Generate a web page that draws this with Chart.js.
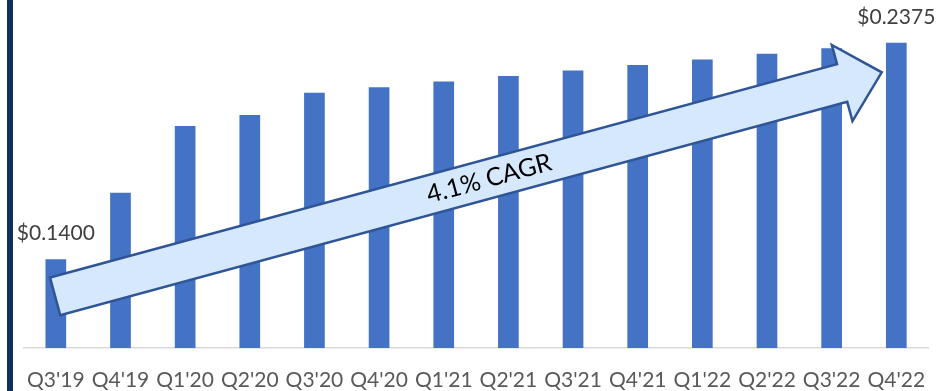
<!DOCTYPE html>
<html>
<head>
<meta charset="utf-8">
<script src="https://cdn.jsdelivr.net/npm/chart.js@4.4.0/dist/chart.umd.min.js"></script>
<style>
  html, body { margin: 0; padding: 0; background: #fff; }
  #grafica { position: relative; width: 945px; height: 391px; }
</style>
</head>
<body>
<div id="grafica"><canvas id="myChart"></canvas></div>
<script>
// datos
var trimestres = ["Q3'19", "Q4'19", "Q1'20", "Q2'20", "Q3'20", "Q4'20", "Q1'21", "Q2'21", "Q3'21", "Q4'21", "Q1'22", "Q2'22", "Q3'22", "Q4'22"];
var dividendos = [0.14, 0.17, 0.20, 0.205, 0.215, 0.2175, 0.22, 0.2225, 0.225, 0.2275, 0.23, 0.2325, 0.235, 0.2375];
var etiquetas = ['$0.1400', null, null, null, null, null, null, null, null, null, null, null, null, '$0.2375'];
var texto_flecha = '4.1% CAGR';

var fuente = 'Lato, "Open Sans", sans-serif';

// linea azul a la izquierda
var bordeIzq = {
    id: 'bordeIzq',
    beforeDraw: function (chart) {
        var ctx = chart.ctx;
        ctx.save();
        ctx.fillStyle = '#0f2f5e';
        ctx.fillRect(7, 0, 6, chart.height);
        ctx.restore();
    }
};

// etiquetas de valor arriba de las barras
var etiquetasValor = {
    id: 'etiquetasValor',
    afterDatasetsDraw: function (chart) {
        var ctx = chart.ctx;
        var meta = chart.getDatasetMeta(0);
        ctx.save();
        ctx.font = '21px ' + fuente;
        ctx.fillStyle = '#404040';
        ctx.textAlign = 'center';
        ctx.textBaseline = 'middle';
        meta.data.forEach(function (bar, i) {
            if (etiquetas[i]) {
                ctx.fillText(etiquetas[i], bar.x, bar.y - 26);
            }
        });
        ctx.restore();
    }
};

// flecha CAGR
var flecha = {
    id: 'flecha',
    afterDatasetsDraw: function (chart) {
        var ctx = chart.ctx;
        var xs = chart.scales.x, ys = chart.scales.y;
        var sx = xs.getPixelForValue(0) - 0.7;
        var sy = ys.getPixelForValue(0.1233);
        var tx = xs.getPixelForValue(trimestres.length - 1) - 14.6;
        var ty = ys.getPixelForValue(0.2242);
        var largo = Math.hypot(tx - sx, ty - sy);
        var ang = Math.atan2(ty - sy, tx - sx);
        var cabeza = 41, anchoCab = 39.5, anchoEje = 19.5;

        ctx.save();
        ctx.translate(sx, sy);
        ctx.rotate(ang);
        ctx.beginPath();
        ctx.moveTo(0, -anchoEje);
        ctx.lineTo(largo - cabeza, -anchoEje);
        ctx.lineTo(largo - cabeza, -anchoCab);
        ctx.lineTo(largo, 0);
        ctx.lineTo(largo - cabeza, anchoCab);
        ctx.lineTo(largo - cabeza, anchoEje);
        ctx.lineTo(0, anchoEje);
        ctx.closePath();
        ctx.fillStyle = '#d6e8fb';
        ctx.fill();
        ctx.lineWidth = 2.5;
        ctx.strokeStyle = '#2f5597';
        ctx.lineJoin = 'miter';
        ctx.stroke();

        ctx.font = '25px ' + fuente;
        ctx.fillStyle = '#000';
        ctx.textAlign = 'center';
        ctx.textBaseline = 'middle';
        ctx.fillText(texto_flecha, largo * 0.525, 0);
        ctx.restore();
    }
};

var ctx = document.getElementById('myChart').getContext('2d');
new Chart(ctx, {
    type: 'bar',
    data: {
        labels: trimestres,
        datasets: [{
            data: dividendos,
            backgroundColor: '#4472c4',
            barPercentage: 0.64,
            categoryPercentage: 0.5
        }]
    },
    options: {
        responsive: true,
        maintainAspectRatio: false,
        animation: false,
        layout: {
            padding: { left: 23.5, right: 10.5, top: 15, bottom: -21.3 }
        },
        plugins: {
            legend: { display: false },
            tooltip: { enabled: false }
        },
        scales: {
            x: {
                grid: { display: false, drawTicks: false },
                border: { display: true, color: '#d9d9d9', width: 1.5 },
                ticks: {
                    color: '#595959',
                    font: { family: fuente, size: 21 },
                    padding: 19.5,
                    maxRotation: 0,
                    autoSkip: false
                }
            },
            y: {
                display: false,
                min: 0.10,
                max: 0.25
            }
        }
    },
    plugins: [bordeIzq, etiquetasValor, flecha]
});
</script>
</body>
</html>
